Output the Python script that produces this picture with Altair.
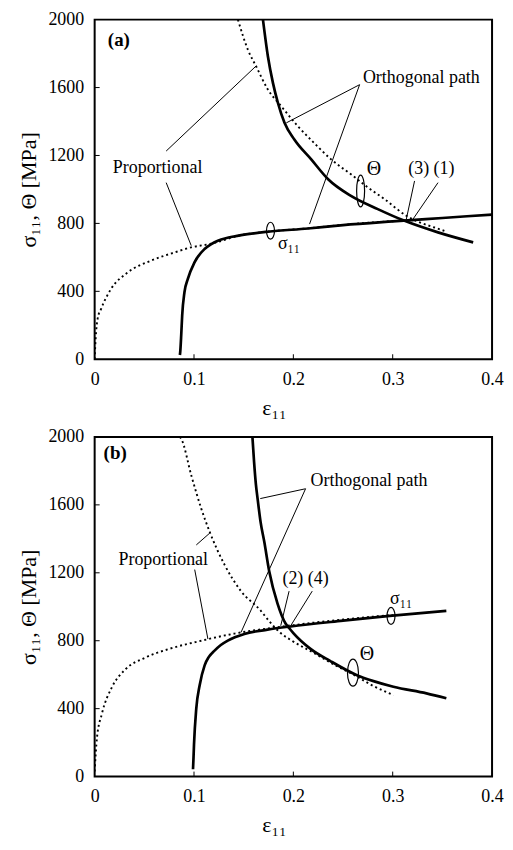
import altair as alt
import pandas as pd

FONT = "Liberation Serif"

# ---------------- Panel (a) curves ----------------
a_orth_sigma_eps = [0.0858, 0.0861, 0.0872, 0.0881, 0.0904, 0.0938, 0.1005, 0.1106, 0.117, 0.124, 0.132, 0.14, 0.1475, 0.1744, 0.2147, 0.25, 0.3, 0.35, 0.4]
a_orth_sigma_val = [25, 40, 150, 258, 395, 473, 571, 649, 677, 698, 713, 723, 731, 751, 770, 790, 812, 832, 852]

a_prop_sigma_eps = [0, 0.001, 0.003, 0.0065, 0.0166, 0.0334, 0.0569, 0.0804, 0.0972, 0.117, 0.1475, 0.1744, 0.2147, 0.25, 0.3, 0.32]
a_prop_sigma_val = [0, 121, 239, 297, 415, 512, 581, 629, 659, 680, 731, 752, 771, 791, 813, 818]

a_orth_theta_eps = [0.1694, 0.1744, 0.1795, 0.1845, 0.1911, 0.201, 0.218, 0.235, 0.258, 0.285, 0.312, 0.3456, 0.381]
a_orth_theta_val = [2000, 1783, 1626, 1509, 1392, 1294, 1177, 1060, 962, 884, 815, 747, 688]

a_prop_theta_eps = [0.1442, 0.1543, 0.1626, 0.1744, 0.1878, 0.2046, 0.2215, 0.238, 0.258, 0.275, 0.292, 0.3137, 0.33, 0.342, 0.352]
a_prop_theta_val = [2000, 1822, 1724, 1588, 1490, 1372, 1270, 1177, 1089, 1012, 942, 845, 800, 776, 756]

# ---------------- Panel (b) curves ----------------
b_orth_sigma_eps = [0.099, 0.0995, 0.100, 0.1023, 0.1057, 0.1107, 0.115, 0.1207, 0.127, 0.134, 0.1507, 0.174, 0.1973, 0.25, 0.297, 0.354]
b_orth_sigma_val = [43, 110, 188, 402, 538, 655, 705, 742, 775, 801, 840, 865, 884, 918, 946, 976]

b_prop_sigma_eps = [0, 0.0023, 0.0073, 0.0173, 0.0307, 0.0507, 0.074, 0.1073, 0.1407, 0.174, 0.2, 0.25, 0.3]
b_prop_sigma_val = [30, 227, 370, 525, 630, 700, 750, 800, 842, 872, 892, 925, 952]

b_orth_theta_eps = [0.1588, 0.1605, 0.1623, 0.164, 0.167, 0.1707, 0.1757, 0.184, 0.1923, 0.1957, 0.2, 0.2173, 0.2373, 0.264, 0.2807, 0.3007, 0.334, 0.354]
b_orth_theta_val = [2000, 1850, 1720, 1637, 1500, 1384, 1209, 1020, 900, 875, 845, 752, 680, 597, 562, 529, 490, 461]

b_prop_theta_eps = [0.0857, 0.0873, 0.0973, 0.1073, 0.1157, 0.1307, 0.1473, 0.1673, 0.174, 0.1873, 0.2, 0.2207, 0.2407, 0.2607, 0.28, 0.3007]
b_prop_theta_val = [2000, 1987, 1773, 1578, 1442, 1248, 1092, 976, 927, 845, 795, 728, 660, 600, 535, 480]

# ---------------- Annotations ----------------
a_text = ["(a)", "Orthogonal path", "Proportional", "Θ", "(3) (1)", "σ₁₁"]
a_text_eps = [0.0133, 0.270, 0.0183, 0.2812, 0.3389, 0.1845]
a_text_sig = [1881, 1656, 1128, 1118, 1118, 679]
a_text_align = ["left", "left", "left", "center", "center", "left"]

b_text = ["(b)", "Orthogonal path", "Proportional", "Θ", "(2) (4)", "σ₁₁"]
b_text_eps = [0.009, 0.2173, 0.024, 0.274, 0.2123, 0.2973]
b_text_sig = [1908, 1743, 1277, 723, 1164, 1044]
b_text_align = ["left", "left", "left", "center", "center", "left"]

a_lead_eps = [0.2667, 0.2667, 0.072, 0.072, 0.322, 0.3456]
a_lead_sig = [1617, 1617, 1226, 1040, 1050, 1040]
a_lead_eps2 = [0.1929, 0.2163, 0.1627, 0.0972, 0.3137, 0.3204]
a_lead_sig2 = [1392, 796, 1728, 669, 825, 825]

b_lead_eps = [0.2123, 0.2123, 0.1023, 0.1007, 0.1957, 0.219]
b_lead_sig = [1695, 1695, 1364, 1219, 1092, 1092]
b_lead_eps2 = [0.1667, 0.1473, 0.1157, 0.114, 0.1873, 0.1973]
b_lead_sig2 = [1637, 849, 1433, 810, 888, 888]

a_ell_eps = [0.2677, 0.177]
a_ell_sig = [991, 757]
b_ell_eps = [0.26, 0.2983]
b_ell_sig = [612, 946]

x_ticks = [0, 0.1, 0.2, 0.3, 0.4]
y_ticks = [0, 400, 800, 1200, 1600, 2000]

W, H = 399, 341


def ellipse_path(w, h):
    a = w / h
    k = 0.5523
    return (f"M0,-1C{k*a:.4f},-1,{a:.4f},-{k},{a:.4f},0C{a:.4f},{k},{k*a:.4f},1,0,1"
            f"C-{k*a:.4f},1,-{a:.4f},{k},-{a:.4f},0C-{a:.4f},-{k},-{k*a:.4f},-1,0,-1Z")


def curves_df(items):
    frames = []
    for name, style, eps, val in items:
        frames.append(pd.DataFrame({"series": name, "style": style, "eps": eps, "sig": val,
                                    "i": list(range(len(eps)))}))
    return pd.concat(frames, ignore_index=True)


X = alt.X("eps:Q", scale=alt.Scale(domain=[0, 0.4], nice=False, zero=False),
          axis=alt.Axis(values=x_ticks, title="ε₁₁", labelFlush=False,
                        labelExpr="datum.value == 0 ? '0' : format(datum.value, '.1f')",
                        titleX=180))
Y = alt.Y("sig:Q", scale=alt.Scale(domain=[0, 2000], nice=False),
          axis=alt.Axis(values=y_ticks, format="d", title="σ₁₁, Θ [MPa]"))


def panel(cdf, texts, t_eps, t_sig, t_align, l1e, l1s, l2e, l2s, ell_e, ell_s, ell_sizes):
    solid = alt.Chart(cdf).transform_filter("datum.style == 'solid'").mark_line(
        color="black", strokeWidth=2.7, clip=True, interpolate="monotone").encode(
        x=X, y=Y, detail="series:N", order="i:Q")
    dotted = alt.Chart(cdf).transform_filter("datum.style == 'dotted'").mark_line(
        color="black", strokeWidth=1.9, strokeDash=[2, 3], clip=True, interpolate="monotone").encode(
        x=X, y=Y, detail="series:N", order="i:Q")

    lead_df = pd.DataFrame({"eps": l1e, "sig": l1s, "eps2": l2e, "sig2": l2s})
    leaders = alt.Chart(lead_df).mark_rule(color="black", strokeWidth=1).encode(
        x=X, y=Y, x2="eps2:Q", y2="sig2:Q")

    tdf = pd.DataFrame({"text": texts, "eps": t_eps, "sig": t_sig, "align": t_align})
    tdf["bold"] = tdf["text"].isin(["(a)", "(b)"])
    tdf["big"] = tdf["text"] == "Θ"
    layers = [solid, dotted, leaders]
    for al in ["left", "center"]:
        sub = tdf[(tdf["align"] == al) & (~tdf["bold"]) & (~tdf["big"])]
        layers.append(alt.Chart(sub).mark_text(align=al, baseline="middle", font=FONT,
                                               fontSize=18, color="black").encode(
            x=X, y=Y, text="text:N"))
    layers.append(alt.Chart(tdf[tdf["big"]]).mark_text(align="center", baseline="middle", font=FONT,
                                                       fontSize=20, color="black").encode(
        x=X, y=Y, text="text:N"))
    layers.append(alt.Chart(tdf[tdf["bold"]]).mark_text(align="left", baseline="middle", font=FONT,
                                                        fontSize=19, fontWeight="bold",
                                                        color="black").encode(x=X, y=Y, text="text:N"))
    for e, s, (w, h) in zip(ell_e, ell_s, ell_sizes):
        edf = pd.DataFrame({"eps": [e], "sig": [s]})
        layers.append(alt.Chart(edf).mark_point(shape=ellipse_path(w, h), size=h * h, filled=False,
                                                color="black", strokeWidth=1.2, opacity=1).encode(x=X, y=Y))

    xt = alt.Chart(pd.DataFrame({"eps": [0.1, 0.2, 0.3]})).mark_rule(color="black", strokeWidth=1).encode(
        x=X, y=alt.value(H), y2=alt.value(H - 5))
    yt = alt.Chart(pd.DataFrame({"sig": [400, 800, 1200, 1600]})).mark_rule(color="black", strokeWidth=1).encode(
        y=Y, x=alt.value(0), x2=alt.value(5))
    layers += [xt, yt]
    return alt.layer(*layers).properties(width=W, height=H)


a_df = curves_df([
    ("orth_sigma", "solid", a_orth_sigma_eps, a_orth_sigma_val),
    ("orth_theta", "solid", a_orth_theta_eps, a_orth_theta_val),
    ("prop_sigma", "dotted", a_prop_sigma_eps, a_prop_sigma_val),
    ("prop_theta", "dotted", a_prop_theta_eps, a_prop_theta_val),
])
b_df = curves_df([
    ("orth_sigma", "solid", b_orth_sigma_eps, b_orth_sigma_val),
    ("orth_theta", "solid", b_orth_theta_eps, b_orth_theta_val),
    ("prop_sigma", "dotted", b_prop_sigma_eps, b_prop_sigma_val),
    ("prop_theta", "dotted", b_prop_theta_eps, b_prop_theta_val),
])

pa = panel(a_df, a_text, a_text_eps, a_text_sig, a_text_align,
           a_lead_eps, a_lead_sig, a_lead_eps2, a_lead_sig2,
           a_ell_eps, a_ell_sig, [(8, 32), (8, 17)])
pb = panel(b_df, b_text, b_text_eps, b_text_sig, b_text_align,
           b_lead_eps, b_lead_sig, b_lead_eps2, b_lead_sig2,
           b_ell_eps, b_ell_sig, [(11, 27), (8, 17)])

chart = alt.vconcat(pa, pb, spacing=8).properties(
    padding={"left": 9, "top": 0, "right": 0, "bottom": 0},
    background="white",
).configure_view(stroke="black", strokeWidth=2).configure_axis(
    domain=False, ticks=False, grid=False,
    labelFont=FONT, labelFontSize=18, labelColor="black",
    titleFont=FONT, titleFontSize=22, titleFontWeight="normal", titleColor="black",
).configure_axisX(labelPadding=11, titlePadding=9).configure_axisY(labelPadding=11, titlePadding=7)

chart.save("out.html", embed_options={"renderer": "svg", "actions": False})
